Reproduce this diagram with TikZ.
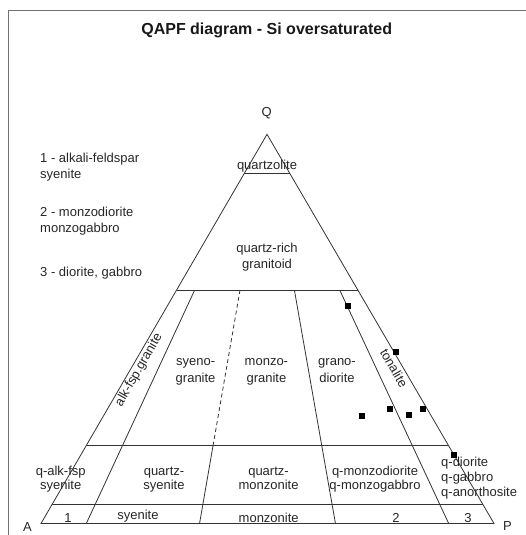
\documentclass[tikz,border=0pt]{standalone}
\usepackage{fontspec}
\setmainfont{Liberation Sans}
\usetikzlibrary{calc}
\begin{document}
\begin{tikzpicture}[x=1pt,y=-1pt,
  lbl/.style={inner sep=0pt, anchor=base, font=\fontsize{13}{15}\selectfont, text=black!85},
  lblc/.style={lbl, anchor=center},
  ln/.style={line width=0.8pt, draw=black!80},
  dashln/.style={ln, dash pattern=on 4pt off 3pt},
  frame/.style={line width=1pt, draw=black!55},
  sq/.style={fill=black, draw=none, inner sep=0pt, minimum size=6pt, rectangle}]
\useasboundingbox (0,0) rectangle (526,535);
% frame
\draw[frame] (8,535) -- (8,11) -- (526,11);
% title
\node[inner sep=0pt, anchor=base, font=\fontsize{16}{19}\selectfont\bfseries, text=black!90] (title) at (266.7,34.3) {QAPF diagram - Si oversaturated};
% vertices
\coordinate (A) at (41,523.5);
\coordinate (P) at (494,523.5);
\coordinate (Q) at (267,134.3);
\node[lbl] (lq) at (266.7,116.3) {Q};
\node[lblc] (la) at (27.5,527) {A};
\node[lblc] (lp) at (507.5,526) {P};
% triangle
\draw[ln] (A) -- (Q) -- (P) -- cycle;
% horizontal levels
\foreach \t/\n in {0.9/h90,0.6/h60,0.2/h20,0.05/h05}{
  \coordinate (\n l) at ($(A)!\t!(Q)$);
  \coordinate (\n r) at ($(P)!\t!(Q)$);
  \draw[ln] (\n l) -- (\n r);
}
% radial lines
\foreach \f/\n in {0.1/b10,0.35/b35,0.65/b65,0.9/b90}{
  \coordinate (\n) at ($(A)!\f!(P)$);
  \coordinate (\n t) at ($(\n)!0.6!(Q)$);
  \coordinate (\n m) at ($(\n)!0.2!(Q)$);
}
\draw[ln] (b10t) -- (b10);
\draw[dashln] (b35t) -- (b35m);
\draw[ln] (b35m) -- (b35);
\draw[ln] (b65t) -- (b65);
\draw[ln] (b90t) -- (b90);
% legend
\node[lbl, anchor=base west] (g1a) at (40,162.3) {1 - alkali-feldspar};
\node[lbl, anchor=base west] (g1b) at (40,178.3) {syenite};
\node[lbl, anchor=base west] (g2a) at (40,216.7) {2 - monzodiorite};
\node[lbl, anchor=base west] (g2b) at (40,232.7) {monzogabbro};
\node[lbl, anchor=base west] (g3) at (40,276.7) {3 - diorite, gabbro};
% upper fields
\node[lbl] (qz) at (267,169) {quartzolite};
\node[lbl] (qr1) at (267,252.7) {quartz-rich};
\node[lbl] (qr2) at (267,268.7) {granitoid};
\node[lblc, rotate=60] (afg) at (139,370) {alk-fsp.granite};
\node[lblc, rotate=-60] (ton) at (394,368) {tonalite};
\node[lbl] (sg1) at (195.6,365) {syeno-};
\node[lbl] (sg2) at (195.6,382.5) {granite};
\node[lbl] (mg1) at (266.4,365) {monzo-};
\node[lbl] (mg2) at (266.4,382.5) {granite};
\node[lbl] (gd1) at (337,365) {grano-};
\node[lbl] (gd2) at (337,382.5) {diorite};
% middle row
\node[lbl] (qa1) at (60.7,475) {q-alk-fsp};
\node[lbl] (qa2) at (60.7,489.5) {syenite};
\node[lbl] (qs1) at (164,475) {quartz-};
\node[lbl] (qs2) at (164,489.5) {syenite};
\node[lbl] (qm1) at (268.5,475) {quartz-};
\node[lbl] (qm2) at (268.5,489.5) {monzonite};
\node[lbl] (qd1) at (375,475) {q-monzodiorite};
\node[lbl] (qd2) at (375,489.5) {q-monzogabbro};
\node[lbl, anchor=base west] (qg1) at (441,466.5) {q-diorite};
\node[lbl, anchor=base west] (qg2) at (441,481.5) {q-gabbro};
\node[lbl, anchor=base west] (qg3) at (441,496.5) {q-anorthosite};
% bottom row
\node[lbl] (r1) at (68,522) {1};
\node[lbl] (rs) at (138,519) {syenite};
\node[lbl] (rm) at (268.7,522) {monzonite};
\node[lbl] (r2) at (396,522) {2};
\node[lbl] (r3) at (468,522) {3};
% data points
\node[sq] (s1) at (348.3,306) {};
\node[sq] (s2) at (395.7,352.3) {};
\node[sq] (s3) at (362.3,416) {};
\node[sq] (s4) at (390.3,409) {};
\node[sq] (s5) at (409.3,415) {};
\node[sq] (s6) at (422.7,408.7) {};
\node[sq] (s7) at (454,455) {};
\end{tikzpicture}
\end{document}
